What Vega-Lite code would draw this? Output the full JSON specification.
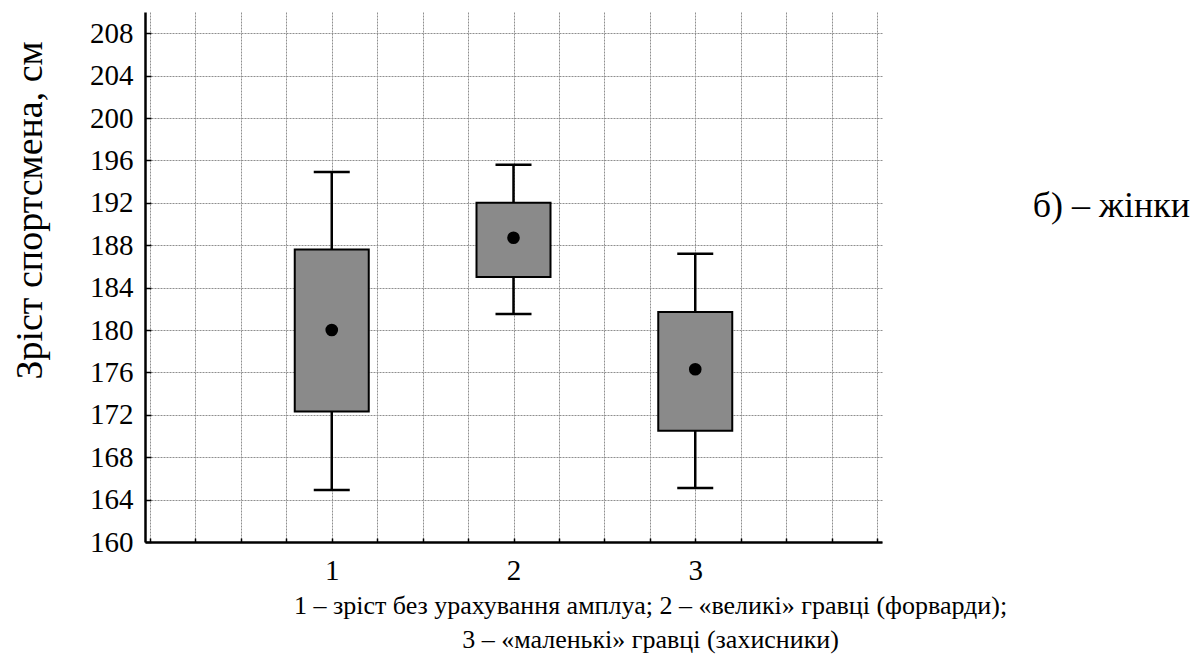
{
  "$schema": "https://vega.github.io/schema/vega-lite/v6.json",
  "autosize": {"type": "none"},
  "width": 737,
  "height": 530,
  "padding": {"left": 145, "top": 12, "right": 318, "bottom": 115},
  "background": "white",
  "title": {
    "text": "б) – жінки",
    "orient": "top",
    "anchor": "end",
    "frame": "group",
    "offset": 0,
    "dx": 308,
    "dy": 230,
    "baseline": "middle",
    "font": "Liberation Serif",
    "fontSize": 36,
    "fontWeight": "normal",
    "color": "black"
  },
  "config": {
    "view": {"stroke": null},
    "font": "Liberation Serif",
    "axis": {
      "labelFont": "Liberation Serif",
      "titleFont": "Liberation Serif",
      "labelColor": "black",
      "titleColor": "black",
      "titleFontWeight": "normal",
      "domainColor": "black",
      "domainWidth": 2.5,
      "gridColor": "#8f8f8f",
      "gridWidth": 1,
      "gridDash": [2, 1],
      "tickColor": "black"
    }
  },
  "data": {
    "values": [
      {"group": 1, "lo": 164.9, "q1": 172.3, "mean": 180.0, "q3": 187.6, "hi": 194.9},
      {"group": 2, "lo": 181.5, "q1": 185.0, "mean": 188.7, "q3": 192.0, "hi": 195.6},
      {"group": 3, "lo": 165.1, "q1": 170.5, "mean": 176.3, "q3": 181.7, "hi": 187.2}
    ]
  },
  "encoding": {
    "x": {
      "field": "group",
      "type": "quantitative",
      "scale": {"domain": [0, 4], "nice": false, "zero": false},
      "axis": {
        "values": [0, 0.25, 0.5, 0.75, 1, 1.25, 1.5, 1.75, 2, 2.25, 2.5, 2.75, 3, 3.25, 3.5, 3.75, 4],
        "labelExpr": "(datum.value == 1 || datum.value == 2 || datum.value == 3) ? format(datum.value, 'd') : ''",
        "labelFontSize": 29,
        "labelPadding": 18,
        "labelOverlap": false,
        "ticks": true,
        "tickSize": -4,
        "tickWidth": 1.5,
        "grid": true,
        "title": ["1 – зріст без урахування амплуа; 2 – «великі» гравці (форварди);", "3 – «маленькі» гравці (захисники)"],
        "titleFontSize": 26,
        "titleLineHeight": 34,
        "titleX": 505,
        "titleY": 50,
        "titleAlign": "center",
        "titleAnchor": null,
        "titleBaseline": "top"
      }
    }
  },
  "layer": [
    {
      "mark": {"type": "rule", "color": "black", "strokeWidth": 2.5},
      "encoding": {
        "y": {
          "field": "lo",
          "type": "quantitative",
          "scale": {"domain": [160, 210], "nice": false, "zero": false},
          "axis": {
            "values": [160, 164, 168, 172, 176, 180, 184, 188, 192, 196, 200, 204, 208],
            "labelFontSize": 29,
            "labelPadding": 18,
            "tickSize": -6,
            "tickWidth": 1.5,
            "grid": true,
            "title": "Зріст спортсмена, см",
            "titleFontSize": 38,
            "titleX": -115,
            "titleY": 198,
            "titleAlign": "center",
            "titleBaseline": "middle",
            "titleAngle": -90
          }
        },
        "y2": {"field": "hi"}
      }
    },
    {
      "mark": {"type": "bar", "width": 74, "fill": "#8a8a8a", "stroke": "black", "strokeWidth": 2},
      "encoding": {
        "y": {"field": "q1", "type": "quantitative"},
        "y2": {"field": "q3"}
      }
    },
    {
      "mark": {"type": "tick", "orient": "horizontal", "size": 36, "thickness": 2.5, "color": "black", "opacity": 1},
      "encoding": {"y": {"field": "lo", "type": "quantitative"}}
    },
    {
      "mark": {"type": "tick", "orient": "horizontal", "size": 36, "thickness": 2.5, "color": "black", "opacity": 1},
      "encoding": {"y": {"field": "hi", "type": "quantitative"}}
    },
    {
      "mark": {"type": "point", "filled": true, "color": "black", "opacity": 1, "size": 160},
      "encoding": {"y": {"field": "mean", "type": "quantitative"}}
    }
  ]
}
